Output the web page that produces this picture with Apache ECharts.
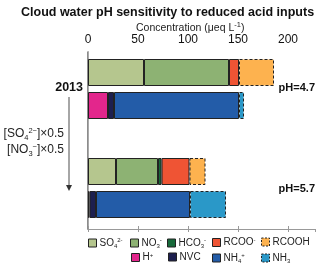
<!DOCTYPE html>
<html><head><meta charset="utf-8">
<script src="https://cdn.jsdelivr.net/npm/echarts@6/dist/echarts.min.js"></script>
<style>html,body{margin:0;padding:0;background:#fff}#c{width:320px;height:268px}</style>
</head><body><div id="c"></div>
<script>
// ---- data ----
var categories = ['2013 anions', '2013 cations', '', 'scenario anions', 'scenario cations'];
var so4   = [56, '-', '-', 28, '-'];
var no3   = [85, '-', '-', 42, '-'];
var hco3  = ['-', '-', '-', 3.5, '-'];
var rcoo  = [10, '-', '-', 28, '-'];
var rcooh = [35, '-', '-', 16, '-'];
var hplus = ['-', 20, '-', '-', 1.5];
var nvc   = ['-', 6, '-', '-', 6.5];
var nh4   = ['-', 125, '-', '-', 94];
var nh3   = ['-', 5, '-', '-', 36];
var xTicks = [0, 50, 100, 150, 200];
var seriesNames = ['SO4', 'NO3', 'HCO3', 'RCOO', 'RCOOH', 'H', 'NVC', 'NH4', 'NH3'];
var seriesData = [so4, no3, hco3, rcoo, rcooh, hplus, nvc, nh4, nh3];
var legendLabels = {
  SO4: '{n|SO}{sub|4}{sup|2-}', NO3: '{n|NO}{sub|3}{sup|-}', HCO3: '{n|HCO}{sub|3}{sup|-}',
  RCOO: '{n|RCOO}{sup|-}', RCOOH: '{n|RCOOH}', H: '{n|H}{sup|+}', NVC: '{n|NVC}',
  NH4: '{n|NH}{sub|4}{sup|+}', NH3: '{n|NH}{sub|3}'
};
var colors = ['#b5c68e', '#8db273', '#17693a', '#ef5434', '#fdb24f', '#e3268c', '#1d1f4f', '#235ca8', '#2a98c8'];
var dashed = [false, false, false, false, true, false, false, false, true];
var phLabels = ['pH=4.7', 'pH=5.7'];

var FONT = 'Liberation Sans, Arial, Helvetica, sans-serif';
var rich = {
  n: {fontSize: 10, fontFamily: FONT, color: '#222', lineHeight: 12},
  sub: {fontSize: 6, fontFamily: FONT, color: '#222', padding: [6, 0, 0, 0], lineHeight: 12},
  sup: {fontSize: 6, fontFamily: FONT, color: '#222', padding: [0, 0, 5, 0], lineHeight: 12}
};
var legendPos = [[88, 243], [130, 243], [167, 243], [212, 243], [261, 243], [131, 258], [168, 258], [212, 258], [261, 258]];

var chart = echarts.init(document.getElementById('c'), null, {renderer: 'canvas'});
var series = seriesNames.map(function (nm, i) {
  return {
    name: nm, type: 'bar', stack: 'tot', xAxisIndex: 2, yAxisIndex: 2,
    data: seriesData[i], barWidth: 27, silent: true,
    itemStyle: {color: colors[i], borderColor: '#222', borderWidth: 1, borderType: dashed[i] ? [3, 2] : 'solid'}
  };
});
var legends = seriesNames.map(function (nm, i) {
  return {
    data: [{name: nm, itemStyle: {color: colors[i], borderColor: '#222', borderWidth: 1, borderType: dashed[i] ? [2, 1.5] : 'solid'}}],
    left: legendPos[i][0], top: legendPos[i][1] - 6, padding: 0,
    itemWidth: 8, itemHeight: 8, itemGap: 0, icon: 'rect', selectedMode: false,
    formatter: function (n) { return legendLabels[n]; },
    textStyle: {rich: rich, fontSize: 10, fontFamily: FONT, color: '#222', padding: [0, 0, 0, -2]}
  };
});

var txtRich = {
  sub: {fontSize: 7.5, fontFamily: FONT, color: '#222', padding: [7, 0, 0, 0]},
  sup: {fontSize: 7.5, fontFamily: FONT, color: '#222', padding: [0, 0, 6, 0]}
};

chart.setOption({
  animation: false,
  title: {text: 'Cloud water pH sensitivity to reduced acid inputs', left: 16, top: 1,
    textStyle: {fontSize: 12.5, fontWeight: 'bold', fontFamily: FONT, color: '#111'}},
  legend: legends,
  grid: [
    {left: 88, top: 52, width: 227, height: 177},
    {left: 88, top: 56, width: 227, height: 165}
  ],
  xAxis: [
    {type: 'value', gridIndex: 0, position: 'top', min: 0, max: 227, interval: 50,
      axisLine: {show: true, lineStyle: {color: '#999', width: 1}},
      axisTick: {show: true, length: 3, lineStyle: {color: '#999'}},
      axisLabel: {show: true, showMaxLabel: false, fontSize: 12, fontFamily: FONT, color: '#111', margin: 6,
        formatter: function (v) { return xTicks.indexOf(v) >= 0 ? String(v) : ''; }},
      splitLine: {show: false}},
    {type: 'value', gridIndex: 0, position: 'bottom', min: 0, max: 227, interval: 50,
      axisLine: {show: true, lineStyle: {color: '#999', width: 1}},
      axisTick: {show: true, length: 3, lineStyle: {color: '#999'}},
      axisLabel: {show: false}, splitLine: {show: false}},
    {type: 'value', gridIndex: 1, min: 0, max: 227, show: false}
  ],
  yAxis: [
    {type: 'value', gridIndex: 0, position: 'left', min: 0, max: 1,
      axisLine: {show: true, lineStyle: {color: '#666', width: 1.5}},
      axisTick: {show: false}, axisLabel: {show: false}, splitLine: {show: false}},
    {type: 'value', gridIndex: 0, position: 'right', min: 0, max: 1,
      axisLine: {show: true, lineStyle: {color: '#aaa', width: 1}},
      axisTick: {show: false}, axisLabel: {show: false}, splitLine: {show: false}},
    {type: 'category', gridIndex: 1, data: categories, inverse: true, show: false}
  ],
  series: series,
  graphic: [
    {type: 'text', left: 136, top: 21, style: {text: 'Concentration (μeq L{sup|-1})', rich: txtRich,
      font: '10.5px ' + FONT, fill: '#222'}},
    {type: 'text', right: 237, top: 81, style: {text: '2013', font: 'bold 12.5px ' + FONT, fill: '#111'}},
    {type: 'text', right: 256, top: 127, style: {text: '[SO{sub|4}{sup|2−}]×0.5', rich: txtRich, font: '12px ' + FONT, fill: '#222'}},
    {type: 'text', right: 256, top: 143, style: {text: '[NO{sub|3}{sup|−}]×0.5', rich: txtRich, font: '12px ' + FONT, fill: '#222'}},
    {type: 'line', shape: {x1: 69, y1: 97, x2: 69, y2: 186}, style: {stroke: '#888', lineWidth: 1.5}},
    {type: 'polygon', shape: {points: [[66, 185], [72, 185], [69, 191]]}, style: {fill: '#333'}},
    {type: 'text', right: 5, top: 82, style: {text: phLabels[0], font: 'bold 11px ' + FONT, fill: '#111'}},
    {type: 'text', right: 5, top: 183, style: {text: phLabels[1], font: 'bold 11px ' + FONT, fill: '#111'}}
  ]
});
</script></body></html>
